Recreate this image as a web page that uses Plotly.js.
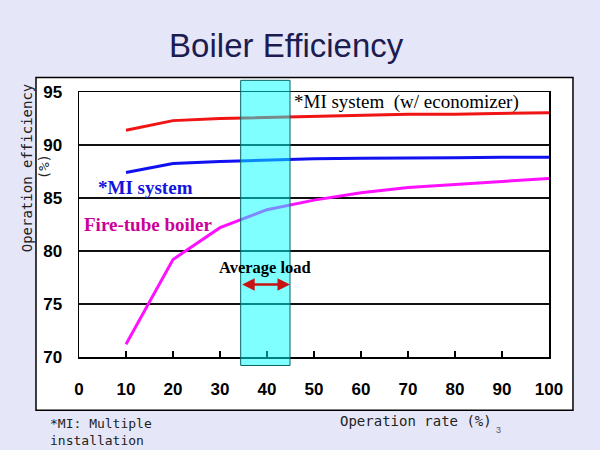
<!DOCTYPE html>
<html>
<head>
<meta charset="utf-8">
<script src="https://cdn.plot.ly/plotly-3.0.1.min.js"></script>
<style>html,body{margin:0;padding:0;background:#e5e7f8;}#chart{width:600px;height:450px;}</style>
</head>
<body>
<div id="chart"></div>
<script>
// ---- data ----
const rate = [10, 20, 30, 40, 50, 60, 70, 80, 90, 100];
const effEconomizer = [91.4, 92.3, 92.5, 92.6, 92.75, 92.85, 92.9, 92.9, 92.95, 93.05];
const effMI = [87.4, 88.25, 88.45, 88.6, 88.7, 88.75, 88.75, 88.8, 88.85, 88.85];
const effFireTube = [71.2, 79.2, 82.2, 83.9, 84.8, 85.5, 86.0, 86.3, 86.6, 86.85];
const seriesNames = ['*MI system  (w/ economizer)', '*MI system', 'Fire-tube boiler'];
const xTicks = [0, 10, 20, 30, 40, 50, 60, 70, 80, 90, 100];
const yTicks = [70, 75, 80, 85, 90, 95];
const avgLoadRange = [34.4, 44.9];
const avgBandY = [69.2, 96.1];

const yRange = [70, 95];
const toPaperY = v => (v - yRange[0]) / (yRange[1] - yRange[0]);

const serif = 'Liberation Serif, Times New Roman, serif';
const mono = 'DejaVu Sans Mono, monospace';
const sans = 'Liberation Sans, Arial, sans-serif';

const traces = [
  {x: rate, y: effEconomizer, name: seriesNames[0], mode: 'lines', line: {color: '#f01414', width: 3}},
  {x: rate, y: effMI, name: seriesNames[1], mode: 'lines', line: {color: '#1010f0', width: 3}},
  {x: rate, y: effFireTube, name: seriesNames[2], mode: 'lines', line: {color: '#ff10ff', width: 3}}
];

const layout = {
  width: 600, height: 450,
  paper_bgcolor: '#e5e7f8',
  plot_bgcolor: '#ffffff',
  showlegend: false,
  margin: {l: 79, r: 51, t: 92, b: 93},
  title: {text: 'Boiler Efficiency', font: {family: sans, size: 33, color: '#1c1c50'}, x: 0.477, xanchor: 'center', y: 0.9, yanchor: 'middle'},
  xaxis: {
    range: [0, 100], tickvals: xTicks, ticktext: xTicks.map(String),
    ticks: 'inside', ticklen: 6, tickwidth: 1.5, tickcolor: '#000',
    showline: true, mirror: true, linecolor: '#000', linewidth: 1.5,
    showgrid: false, zeroline: false,
    tickfont: {family: sans, size: 17, color: '#000', weight: 'bold'},
    ticklabelstandoff: 16
  },
  yaxis: {
    range: yRange, tickvals: yTicks, ticktext: yTicks.map(String),
    ticks: '', showline: true, mirror: true, linecolor: '#000', linewidth: 1.5,
    showgrid: true, gridcolor: '#111', gridwidth: 1.2, zeroline: false,
    tickfont: {family: sans, size: 17, color: '#000', weight: 'bold'},
    ticklabelstandoff: 12
  },
  shapes: [
    {type: 'rect', xref: 'paper', yref: 'paper', x0: -0.0915, x1: 1.051, y0: -0.201, y1: 1.055,
     fillcolor: '#ffffff', line: {color: '#000', width: 1.5}, layer: 'below'},
    {type: 'rect', xref: 'x', yref: 'paper', x0: avgLoadRange[0], x1: avgLoadRange[1],
     y0: toPaperY(avgBandY[0]), y1: toPaperY(avgBandY[1]),
     fillcolor: 'rgba(0,255,255,0.5)', line: {color: 'rgb(10,100,100)', width: 1}, layer: 'above'}
  ],
  annotations: [
    {xref: 'x', yref: 'y', x: 45.3, y: 94.1, text: seriesNames[0], showarrow: false, xanchor: 'left', yanchor: 'middle',
     font: {family: serif, size: 19, color: '#000'}},
    {xref: 'x', yref: 'y', x: 3.6, y: 85.95, text: '<b>' + seriesNames[1] + '</b>', showarrow: false, xanchor: 'left', yanchor: 'middle',
     font: {family: serif, size: 19, color: '#1414dc'}},
    {xref: 'x', yref: 'y', x: 0.6, y: 82.47, text: '<b>' + seriesNames[2] + '</b>', showarrow: false, xanchor: 'left', yanchor: 'middle',
     font: {family: serif, size: 19, color: '#cc0099'}},
    {xref: 'x', yref: 'y', x: 39.6, y: 78.4, text: '<b>Average load</b>', showarrow: false, xanchor: 'center', yanchor: 'middle',
     font: {family: serif, size: 16.5, color: '#000'}},
    {xref: 'x', yref: 'y', axref: 'x', ayref: 'y', x: avgLoadRange[1], y: 76.83, ax: avgLoadRange[0], ay: 76.83,
     text: '', showarrow: true, arrowside: 'end+start', arrowhead: 2, arrowsize: 1, arrowwidth: 2.5, arrowcolor: '#c81414',
     standoff: 0, startstandoff: 0},
    {xref: 'paper', yref: 'paper', x: (27 - 79) / 470, y: (356.7 - 168) / 265, text: 'Operation efficiency', textangle: -90,
     showarrow: false, xanchor: 'center', yanchor: 'middle', font: {family: mono, size: 14, color: '#222'}},
    {xref: 'paper', yref: 'paper', x: (44 - 79) / 470, y: (356.7 - 167) / 265, text: '(%)', textangle: -90,
     showarrow: false, xanchor: 'center', yanchor: 'middle', font: {family: mono, size: 14, color: '#222'}},
    {xref: 'paper', yref: 'paper', x: (416 - 79) / 470, y: (356.7 - 421) / 265, text: 'Operation rate (%)',
     showarrow: false, xanchor: 'center', yanchor: 'middle', font: {family: mono, size: 14, color: '#222'}},
    {xref: 'paper', yref: 'paper', x: (498 - 79) / 470, y: (356.7 - 430) / 265, text: '3',
     showarrow: false, xanchor: 'center', yanchor: 'middle', font: {family: sans, size: 9, color: '#555'}},
    {xref: 'paper', yref: 'paper', x: (48 - 79) / 470, y: (356.7 - 450) / 265, text: '*MI: Multiple<br>installation', align: 'left',
     showarrow: false, xanchor: 'left', yanchor: 'bottom', font: {family: mono, size: 13, color: '#222'}}
  ]
};

Plotly.newPlot('chart', traces, layout, {displayModeBar: false, staticPlot: true});
</script>
</body>
</html>
